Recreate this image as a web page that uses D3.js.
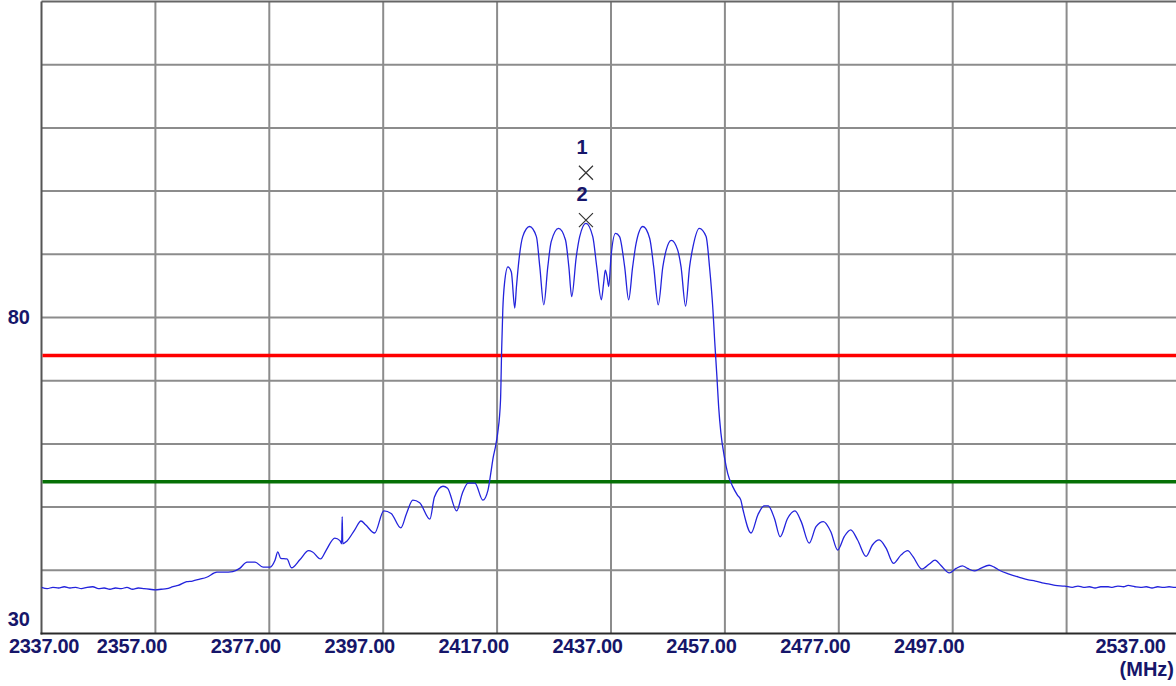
<!DOCTYPE html>
<html>
<head>
<meta charset="utf-8">
<script src="https://cdn.jsdelivr.net/npm/d3@7"></script>
<style>
  html, body { margin: 0; padding: 0; background: #ffffff; }
  svg { display: block; }
  text { font-family: "Liberation Sans", Arial, sans-serif; font-weight: bold; }
</style>
</head>
<body>
<svg id="chart" width="1176" height="686"></svg>
<script>
// ---- data ----
const freqMHz = [
  2337,2338,2339,2340,2341,2342,2343,2344,2345,2346,2347,2348,2349,2350,2351,2352,2353,2354,2355,2356,2357,2358,2359,
  2360.1,2361,2362.5,2363.5,2364.8,2366,2367.8,2369,2370.6,2371.8,2373.1,2374.5,2375.9,2377.1,2378.0,2378.5,2379.0,
  2380.1,2380.9,2382.4,2383.9,2384.6,2386.0,2387.0,2388.5,2389.4,2389.7,2389.8,2389.9,2390.6,2392.0,2393.1,2393.9,
  2395.5,2397.1,2398.4,2400.1,2401.1,2402.2,2403.4,2405.2,2406.0,2407.5,2408.3,2409.9,2410.9,2411.9,2413.1,2414.5,
  2415.4,2415.9,2416.3,2416.7,2417.1,2417.6,2417.8,2418.0,2418.3,2418.9,2419.5,2420.1,2420.4,2420.9,2421.5,2422.7,
  2423.9,2424.5,2425.2,2425.9,2426.5,2427.8,2429.0,2429.6,2430.1,2430.9,2431.5,2432.6,2433.8,2434.5,2435.3,2435.7,
  2436.0,2436.3,2436.6,2437.0,2437.8,2438.5,2439.4,2440.1,2440.8,2441.4,2442.6,2443.8,2444.5,2445.3,2446.1,2446.7,
  2447.6,2448.7,2449.3,2450.1,2450.8,2451.4,2452.5,2453.7,2454.3,2454.9,2455.2,2455.6,2455.9,2456.3,2456.9,2457.5,
  2458.4,2459.2,2459.8,2460.2,2461.6,2462.8,2463.9,2464.6,2465.7,2466.7,2468.0,2469.3,2470.4,2471.8,2473.0,2474.3,
  2475.6,2476.8,2478.0,2479.1,2480.3,2481.8,2482.9,2484.1,2485.3,2486.6,2487.9,2489.1,2490.0,2491.6,2492.9,2493.9,
  2494.9,2496.4,2497.6,2498.7,2499.6,2500.8,2501.9,2503.4,2504.3,2505.2,2506.9,2508.7,2510.3,2511.5,2512.7,2514,
  2515,2516.7,2518,2519,2520,2521,2522,2523,2524.3,2525,2526,2527,2527.8,2529,2530,2531,2532,2533,2534,2535,2536,2537
];
const levelDb = [
  37.3,37.1,37.3,37.2,37.4,37.2,37.3,37.1,37.3,37.4,37.1,37.2,37.0,37.2,37.1,37.3,37.0,37.2,37.1,37.0,36.9,37.0,37.1,
  37.4,37.6,38.2,38.3,38.6,38.9,39.7,39.7,39.8,40.3,41.3,41.3,40.5,40.5,41.6,42.9,41.9,
  41.8,40.4,41.7,43.1,42.9,41.8,43.2,45.1,44.7,44.2,48.5,44.2,44.6,46.4,47.8,47.2,
  45.9,49.4,49.0,46.7,49.0,51.1,50.7,48.1,51.6,53.3,53.0,49.4,52.2,53.8,53.8,51.1,
  52.7,55.4,57.8,59.5,61.7,66.9,74.9,81.2,85.4,88.0,87.2,81.5,84.9,89.6,92.8,94.4,
  92.8,88.0,82.0,88.0,92.0,94.1,92.3,88.0,83.3,89.6,92.8,94.9,92.8,88.0,82.8,85.4,
  87.5,86.5,84.9,89.6,93.3,92.8,88.0,82.8,88.0,91.7,94.4,92.5,88.0,82.0,88.0,90.7,
  92.2,90.7,88.0,81.8,88.0,91.2,94.1,92.8,88.0,81.2,76.4,70.6,65.9,61.7,58.0,55.3,
  53.2,51.9,51.1,49.5,45.9,48.8,50.2,50.2,48.2,45.3,48.2,49.4,47.7,44.3,46.9,47.7,
  46.1,43.2,45.4,46.4,44.8,42.2,44.0,44.8,43.5,41.1,42.4,43.1,42.2,40.2,41.0,41.6,
  40.8,39.6,40.3,40.7,40.3,39.9,40.3,40.8,40.5,40.0,39.4,38.9,38.5,38.3,38.0,37.8,
  37.6,37.5,37.3,37.5,37.3,37.4,37.2,37.4,37.4,37.3,37.5,37.4,37.6,37.4,37.3,37.4,37.2,37.4,37.3,37.4,37.3,37.4
];
const xGridValues = [2337,2357,2377,2397,2417,2437,2457,2477,2497,2517,2537];
const xLabelValues = [2337,2357,2377,2397,2417,2437,2457,2477,2497,2537];
const yGridValues = [30,40,50,60,70,80,90,100,110,120,130];
const yLabelValues = [30,80];
const limitLevels = [74, 54];
const limitColors = ["#ff0000", "#067006"];
const markerNames = ["1", "2"];
const markerFreq = [2432.6, 2432.6];
const markerLevel = [102.9, 95.4];
const xUnit = "(MHz)";

// ---- layout ----
const svg = d3.select("#chart");
const W = 1176, H = 686;
const x = d3.scaleLinear().domain([2337, 2537]).range([41.5, 1180.5]);
const y = d3.scaleLinear().domain([30, 130]).range([633.5, 1.5]);
const txtColor = "#16166a";

svg.append("defs").append("clipPath").attr("id", "plotclip")
  .append("rect").attr("x", 41.5).attr("y", 0).attr("width", W - 41.5).attr("height", 634.5);

const gridG = svg.append("g");
gridG.selectAll("line.v").data(xGridValues.slice(1)).join("line")
  .attr("x1", d => x(d)).attr("x2", d => x(d))
  .attr("y1", y(130)).attr("y2", y(30))
  .attr("stroke", "#8c8c8c").attr("stroke-width", 2);
gridG.selectAll("line.h").data(yGridValues.slice(1, -1)).join("line")
  .attr("x1", x(2337)).attr("x2", W)
  .attr("y1", d => y(d)).attr("y2", d => y(d))
  .attr("stroke", "#8c8c8c").attr("stroke-width", 2);
// top border
svg.append("line").attr("x1", x(2337)).attr("x2", W).attr("y1", y(130)).attr("y2", y(130))
  .attr("stroke", "#666").attr("stroke-width", 2);
// left axis
svg.append("line").attr("x1", x(2337)).attr("x2", x(2337)).attr("y1", y(130)).attr("y2", y(30) + 1)
  .attr("stroke", "#555").attr("stroke-width", 2);

// limit lines
svg.append("g").selectAll("line").data(limitLevels).join("line")
  .attr("x1", x(2337) + 1).attr("x2", W)
  .attr("y1", d => y(d)).attr("y2", d => y(d))
  .attr("stroke", (d, i) => limitColors[i]).attr("stroke-width", 3.5);

// trace
const pts = freqMHz.map((f, i) => [f, levelDb[i]]);
const line = d3.line().x(d => x(d[0])).y(d => y(d[1])).curve(d3.curveMonotoneX);
svg.append("path").datum(pts).attr("d", line)
  .attr("clip-path", "url(#plotclip)")
  .attr("fill", "none").attr("stroke", "#2323dc").attr("stroke-width", 1.3);

// bottom axis line
svg.append("line").attr("x1", x(2337) - 1).attr("x2", W).attr("y1", y(30)).attr("y2", y(30))
  .attr("stroke", "#2a2a2a").attr("stroke-width", 2);

// markers
const mk = svg.append("g").selectAll("g").data(markerNames).join("g")
  .attr("transform", (d, i) => `translate(${x(markerFreq[i])},${y(markerLevel[i])})`);
mk.append("path").attr("d", "M-7,-7L7,7M-7,7L7,-7")
  .attr("stroke", "#333").attr("stroke-width", 1.2).attr("fill", "none");
mk.append("text").text(d => d).attr("x", -4).attr("y", -19)
  .attr("text-anchor", "middle").attr("font-size", 20).attr("fill", txtColor);

// x axis labels
const xAxis = d3.axisBottom(x).tickValues(xLabelValues).tickSize(0).tickFormat(d3.format(".2f"));
const xg = svg.append("g").attr("transform", `translate(0,${y(30)})`).call(xAxis);
xg.select(".domain").remove();
xg.selectAll("text")
  .attr("font-size", 20).attr("fill", txtColor).attr("dy", null)
  .attr("y", 19.5)
  .attr("font-family", "'Liberation Sans', Arial, sans-serif").attr("font-weight", "bold")
  .attr("letter-spacing", -0.3)
  .attr("x", d => Math.min(Math.max(x(d) - 24, 43.5), 1130) - x(d));
svg.append("text").text(xUnit).attr("x", 1174).attr("y", 676)
  .attr("text-anchor", "end").attr("font-size", 20).attr("fill", txtColor);

// y axis labels
const yAxis = d3.axisLeft(y).tickValues(yLabelValues).tickSize(0).tickFormat(d3.format("d"));
const yg = svg.append("g").attr("transform", `translate(30,0)`).call(yAxis);
yg.select(".domain").remove();
yg.selectAll("text")
  .attr("font-size", 20).attr("fill", txtColor).attr("dy", null).attr("x", 0)
  .attr("font-family", "'Liberation Sans', Arial, sans-serif").attr("font-weight", "bold")
  .attr("y", d => Math.min(y(d) + 5.5, 625) - y(d));
</script>
</body>
</html>
